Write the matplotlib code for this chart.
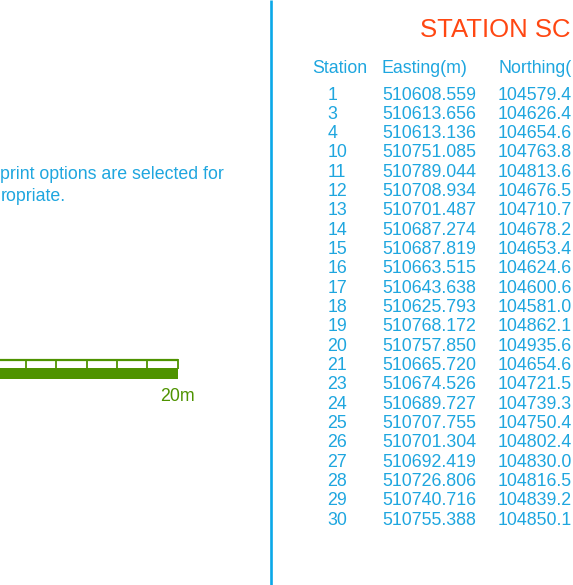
import matplotlib
matplotlib.use("Agg")
import matplotlib.pyplot as plt
from matplotlib.patches import Rectangle

# ---------------- data ----------------
title = "STATION SC"
headers = ["Station", "Easting(m)", "Northing("]
stations = [1, 3, 4, 10, 11, 12, 13, 14, 15, 16, 17, 18, 19, 20, 21, 23, 24, 25, 26, 27, 28, 29, 30]
easting = ["510608.559", "510613.656", "510613.136", "510751.085", "510789.044", "510708.934",
           "510701.487", "510687.274", "510687.819", "510663.515", "510643.638", "510625.793",
           "510768.172", "510757.850", "510665.720", "510674.526", "510689.727", "510707.755",
           "510701.304", "510692.419", "510726.806", "510740.716", "510755.388"]
northing = ["104579.4", "104626.4", "104654.6", "104763.8", "104813.6", "104676.5",
            "104710.7", "104678.2", "104653.4", "104624.6", "104600.6", "104581.0",
            "104862.1", "104935.6", "104654.6", "104721.5", "104739.3", "104750.4",
            "104802.4", "104830.0", "104816.5", "104839.2", "104850.1"]
note_lines = ["print options are selected for", "ropriate."]
scale_label = "20m"

# ---------------- style ----------------
BLUE = "#1EA6DF"
LINE_BLUE = "#0AA8E8"
ORANGE = "#FF4712"
GREEN = "#4E9300"
FONT = "Liberation Sans"
FS = 12.8

W, H = 573, 585
fig = plt.figure(figsize=(W / 100, H / 100), dpi=100)
ax = fig.add_axes([0, 0, 1, 1])
ax.set_xlim(0, W)
ax.set_ylim(H, 0)
ax.axis("off")

# divider line
ax.plot([270.7, 270.7], [0, H], color=LINE_BLUE, lw=1.9, solid_capstyle="butt")

# title
ax.text(419.5, 37.3, title, color=ORANGE, fontsize=18.5, family=FONT, va="baseline", ha="left")

# headers
col_x = [312, 381.6, 498]
for x, h in zip(col_x, headers):
    ax.text(x, 73, h, color=BLUE, fontsize=FS, family=FONT, va="baseline", ha="left")

# rows
y0, dy = 99.5, 19.32
for i, (s, e, n) in enumerate(zip(stations, easting, northing)):
    y = y0 + i * dy
    ax.text(327.5, y, str(s), color=BLUE, fontsize=FS, family=FONT, va="baseline", ha="left")
    ax.text(382, y, e, color=BLUE, fontsize=FS, family=FONT, va="baseline", ha="left")
    ax.text(498, y, n, color=BLUE, fontsize=FS, family=FONT, va="baseline", ha="left")

# note text
for j, line in enumerate(note_lines):
    xs = 0.0 if j == 0 else 0.5
    ax.text(xs, 179.3 + j * 21.8, line, color=BLUE, fontsize=FS, family=FONT,
            va="baseline", ha="left")

# scale bar
bar_right = 177.6
seg = 30.3
ax.add_patch(Rectangle((-10, 368), bar_right + 10, 11, facecolor=GREEN, edgecolor="none"))
ax.plot([-10, bar_right], [360, 360], color=GREEN, lw=1.6, solid_capstyle="butt")
for k in range(7):
    x = bar_right - k * seg
    ax.plot([x, x], [359, 368.5], color=GREEN, lw=1.3, solid_capstyle="butt")
ax.text(bar_right, 400.7, scale_label, color=GREEN, fontsize=FS, family=FONT,
        va="baseline", ha="center")

fig.savefig("out.png", dpi=100, facecolor="white")
